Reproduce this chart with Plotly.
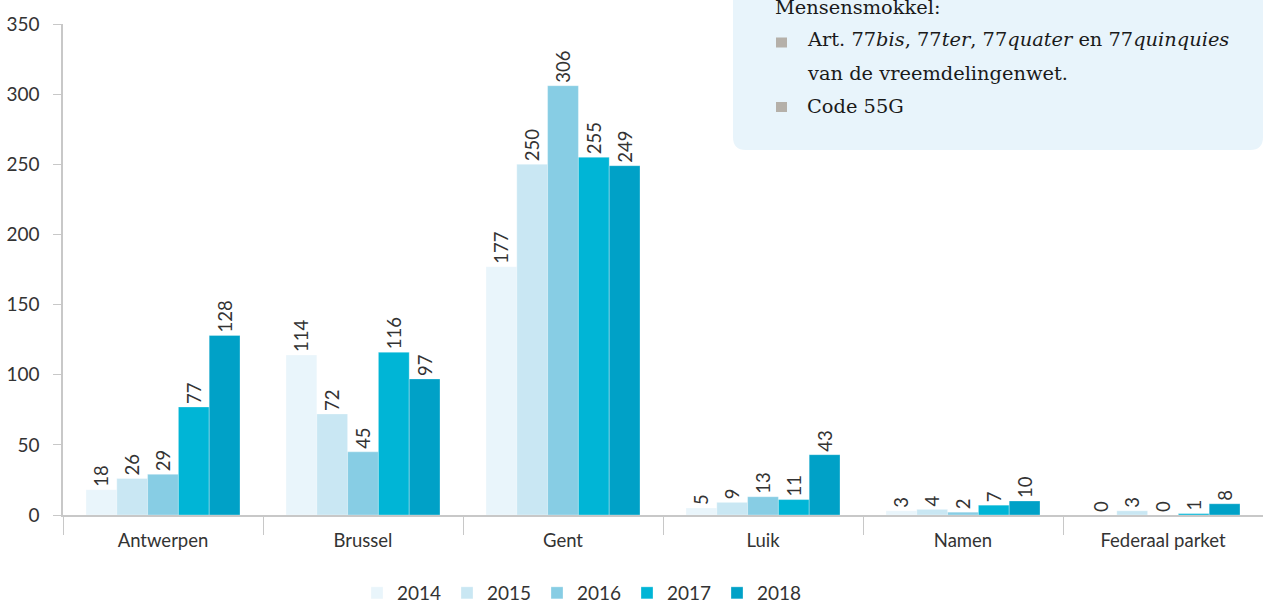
import plotly.graph_objects as go

categories = ["Antwerpen", "Brussel", "Gent", "Luik", "Namen", "Federaal parket"]
years = ["2014", "2015", "2016", "2017", "2018"]
values_2014 = [18, 114, 177, 5, 3, 0]
values_2015 = [26, 72, 250, 9, 4, 3]
values_2016 = [29, 45, 306, 13, 2, 0]
values_2017 = [77, 116, 255, 11, 7, 1]
values_2018 = [128, 97, 249, 43, 10, 8]
series = [values_2014, values_2015, values_2016, values_2017, values_2018]
colors = ["#e9f5fb", "#c9e7f3", "#87cde4", "#00b5d6", "#00a1c7"]

y_ticks = [0, 50, 100, 150, 200, 250, 300, 350]

FONT = "Lato"
TXT = "#333333"

fig = go.Figure()
for yr, vals, col in zip(years, series, colors):
    fig.add_trace(go.Bar(
        name=yr, x=categories, y=vals,
        marker=dict(color=col, line=dict(color="rgba(255,255,255,0.6)", width=0.5)),
        text=[str(v) for v in vals],
        textposition="outside", textangle=-90, constraintext="none",
        textfont=dict(family=FONT, size=18.5, color=TXT),
        cliponaxis=False,
    ))

# plot area in pixels: x 63..1263, y 24..515
L, R, T, B = 63, 1263, 24, 515
W, H = 1263, 603
def px(x):
    return (x - L) / (R - L)
def py(y):
    return (B - y) / (B - T)

# rounded info box
x0, x1, y0, y1 = px(733), px(1263), py(150), py(-20)
rx, ry = 13 / (R - L), 13 / (B - T)
path = (f"M{x0+rx},{y0} L{x1-rx},{y0} Q{x1},{y0} {x1},{y0+ry} "
        f"L{x1},{y1} L{x0},{y1} L{x0},{y0+ry} Q{x0},{y0} {x0+rx},{y0} Z")
shapes = [dict(type="path", xref="paper", yref="paper", path=path,
               fillcolor="#e8f4fb", line=dict(width=0), layer="below")]
for yc in (42.5, 107):
    shapes.append(dict(type="rect", xref="paper", yref="paper",
                       x0=px(776), x1=px(787), y0=py(yc + 5), y1=py(yc - 5),
                       fillcolor="#b5b0a9", line=dict(width=0)))

SERIF = "DejaVu Serif"
box_lines = [
    (773, 7, "Mensensmokkel:"),
    (805, 40, "Art. 77<i>bis</i>, 77<i>ter</i>, 77<i>quater</i> en 77<i>quinquies</i>"),
    (805, 73, "van de vreemdelingenwet."),
    (805, 106, "Code 55G"),
]
annotations = []
for xx, yy, t in box_lines:
    annotations.append(dict(xref="paper", yref="paper", x=px(xx), y=py(yy),
                            xanchor="left", yanchor="middle", text=t, showarrow=False,
                            font=dict(family=SERIF, size=19.4, color="#1a1a1a")))

fig.update_layout(
    width=W, height=H, autosize=False,
    margin=dict(l=L, r=W - R, t=T, b=H - B, pad=0, autoexpand=False),
    paper_bgcolor="white", plot_bgcolor="white",
    barmode="group", bargap=0.23, bargroupgap=0,
    showlegend=True,
    legend=dict(orientation="h", xref="container", yref="container",
                x=582 / W, xanchor="center", y=(H - 593) / H, yanchor="middle",
                font=dict(family=FONT, size=19, color=TXT), entrywidth=45,
                traceorder="normal"),
    xaxis=dict(type="category", showline=True, linecolor="#c8c8c8", linewidth=1.5,
               ticks="outside", tickson="boundaries", ticklen=18, tickcolor="#c8c8c8",
               ticklabelstandoff=8,
               tickfont=dict(family=FONT, size=18.5, color=TXT), showgrid=False,
               automargin=False),
    yaxis=dict(range=[0, 350], tickvals=y_ticks, showline=True, linecolor="#c8c8c8",
               linewidth=1.5, ticks="outside", ticklen=8, tickcolor="#c8c8c8",
               ticklabelstandoff=10,
               tickfont=dict(family=FONT, size=19, color=TXT), showgrid=False,
               zeroline=False, automargin=False),
    shapes=shapes, annotations=annotations,
)

fig.write_html("out.html", config={"displayModeBar": False},
               post_script="document.body.style.margin='0';document.body.style.overflow='hidden';")
